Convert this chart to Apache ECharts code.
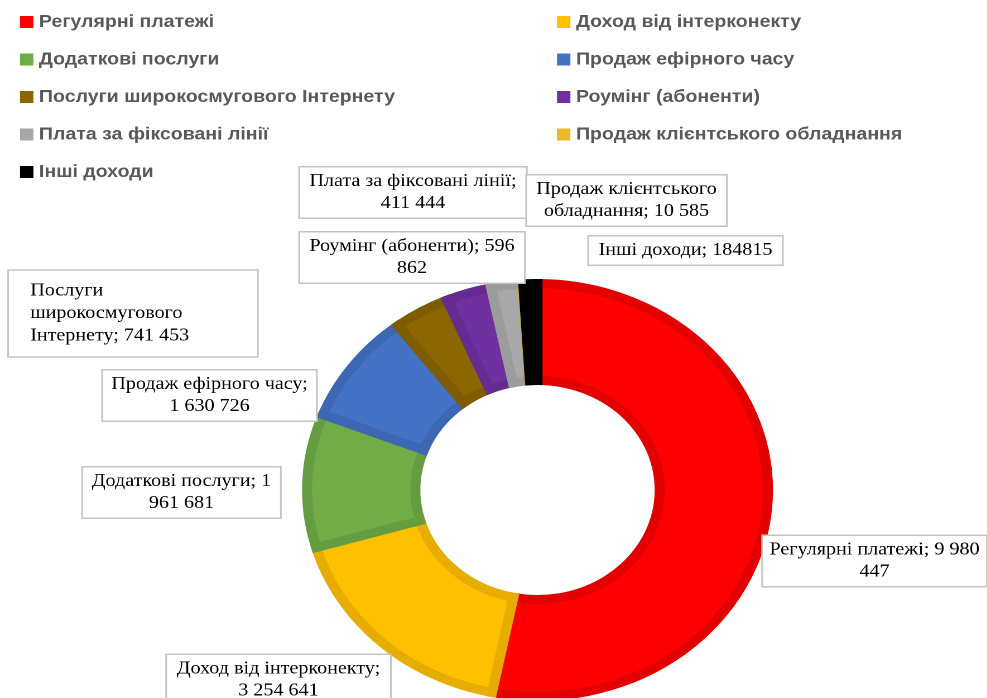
<!DOCTYPE html>
<html>
<head>
<meta charset="utf-8">
<script src="https://cdn.jsdelivr.net/npm/echarts@6/dist/echarts.min.js"></script>
<style>
html,body{margin:0;padding:0;background:#fff;overflow:hidden;}
#chart{height:698px;transform-origin:0 0;}
</style>
</head>
<body>
<div id="chart"></div>
<script>
// ---- data ----
const categories = [
  'Регулярні платежі',
  'Доход від інтерконекту',
  'Додаткові послуги',
  'Продаж ефірного часу',
  'Послуги широкосмугового Інтернету',
  'Роумінг (абоненти)',
  'Плата за фіксовані лінії',
  'Продаж клієнтського обладнання',
  'Інші доходи'
];
const revenues = [9980447, 3254641, 1961681, 1630726, 741453, 596862, 411444, 10585, 184815];
// which word gaps of each label become line breaks
const labelBreaks = [[3], [2], [2], [2], [0, 1], [2], [3], [1], []];
const groupThousands = [true, true, true, true, true, true, true, true, false];

// ---- styles ----
// the reference picture is stretched horizontally; draw narrower and stretch the same way
const SX = 1.116;
const fillColors = ['#FF0000', '#FFC000', '#70AD47', '#4472C4', '#8C6700', '#7030A0', '#A8A8A8', '#EBB92A', '#000000'];
const borderColors = ['#E30000', '#E6AD00', '#659C40', '#3D67B2', '#7E5C00', '#652B90', '#9C9C9C', '#D4A626', '#000000'];
// label boxes in picture pixels: [centerX (left for item 4), centerY, boxWidth]
const labelBoxes = [
  [874.5, 561, 223],
  [278.5, 680, 223],
  [181.5, 492.5, 197],
  [209.5, 395.5, 213],
  [9, 313.5, 248],
  [412, 257.5, 224],
  [413, 192.5, 226],
  [626.5, 200.5, 199],
  [685.5, 250.5, 193]
];

const W = 987, H = 698;
const el = document.getElementById('chart');
el.style.width = (W / SX) + 'px';
el.style.transform = 'scaleX(' + SX + ')';

function fmt(v, group) {
  const s = String(v);
  return group ? s.replace(/\B(?=(\d{3})+(?!\d))/g, ' ') : s;
}

const pieData = categories.map((name, i) => {
  const left = i === 4;
  const w = labelBoxes[i][2] / SX;
  return {
    name: name,
    value: revenues[i],
    itemStyle: { color: fillColors[i], borderColor: borderColors[i] },
    label: left ? {
      align: 'left',
      width: w - 19 - 5,
      padding: [9, 5, 9, 19],
      lineHeight: 22.5
    } : {
      width: w - 10,
      padding: labelBreaks[i].length ? [3, 5] : [3, 5]
    }
  };
});

const leftNames = categories.filter((_, i) => i % 2 === 0);
const rightNames = categories.filter((_, i) => i % 2 === 1);

const legendBase = {
  orient: 'vertical',
  icon: 'rect',
  itemWidth: 12,
  itemHeight: 12,
  itemGap: 17.5,
  padding: 0,
  selectedMode: false,
  itemStyle: { borderWidth: 0 },
  textStyle: {
    fontFamily: 'Liberation Sans',
    fontWeight: 'bold',
    fontSize: 17.5,
    color: '#595959',
    lineHeight: 20
  }
};

const chart = echarts.init(el, null, { renderer: 'canvas', devicePixelRatio: 2 });
chart.setOption({
  animation: false,
  backgroundColor: '#ffffff',
  legend: [
    Object.assign({}, legendBase, { left: 20 / SX, top: 12, data: leftNames }),
    Object.assign({}, legendBase, { left: 557 / SX, top: 12, data: rightNames })
  ],
  series: [{
    type: 'pie',
    center: [537.5 / SX, 490],
    radius: [109.5, 206.5],
    startAngle: 90,
    clockwise: true,
    avoidLabelOverlap: false,
    itemStyle: { borderWidth: 9, borderJoin: 'miter' },
    emphasis: { disabled: true },
    labelLine: { show: false },
    label: {
      show: true,
      position: 'outside',
      fontFamily: 'Liberation Serif',
      fontSize: 18,
      lineHeight: 22,
      color: '#000000',
      align: 'center',
      backgroundColor: '#ffffff',
      borderColor: '#C4C4C4',
      borderWidth: 1.5,
      formatter: function (p) {
        const i = p.dataIndex;
        const words = (p.name + '; ' + fmt(p.value, groupThousands[i])).split(' ');
        let out = '';
        words.forEach((w, k) => {
          out += w;
          if (k < words.length - 1) out += labelBreaks[i].indexOf(k) >= 0 ? '\n' : ' ';
        });
        return out;
      }
    },
    labelLayout: function (params) {
      const b = labelBoxes[params.dataIndex];
      return {
        x: b[0] / SX,
        y: b[1],
        align: params.dataIndex === 4 ? 'left' : 'center',
        verticalAlign: 'middle'
      };
    },
    data: pieData
  }]
});
</script>
</body>
</html>
